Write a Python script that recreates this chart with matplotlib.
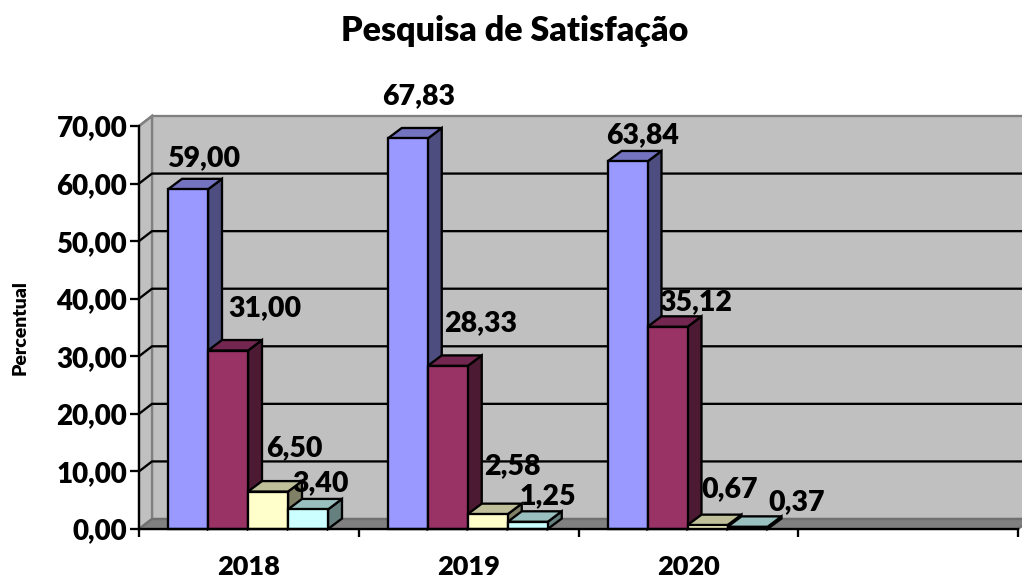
import matplotlib
matplotlib.use("Agg")
import matplotlib.pyplot as plt
from matplotlib.patches import Polygon

years = ['2018', '2019', '2020', '']
series_a = [59.00, 67.83, 63.84]
series_b = [31.00, 28.33, 35.12]
series_c = [6.50, 2.58, 0.67]
series_d = [3.40, 1.25, 0.37]
label_a = ['59,00', '67,83', '63,84']
label_b = ['31,00', '28,33', '35,12']
label_c = ['6,50', '2,58', '0,67']
label_d = ['3,40', '1,25', '0,37']
y_ticks = [0, 10, 20, 30, 40, 50, 60, 70]
y_tick_labels = ['0,00', '10,00', '20,00', '30,00', '40,00', '50,00', '60,00', '70,00']

front = ['#9999FF', '#993366', '#FFFFCC', '#CCFFFF']
top = ['#7373BF', '#732650', '#BFBF99', '#99BFBF']
side = ['#4D4D80', '#4D1A33', '#808066', '#668080']
# label offsets (px) from bar front-top centre
off_a = [(16, 31), (11, 42), (15, 26)]
off_b = [(37, 42), (33, 43), (28, 25)]
off_c = [(26, 43), (25, 48), (22, 36)]
off_d = [(13, 26), (20, 26), (49, 25)]

W, H = 1022, 579
plt.rcParams['font.family'] = ['Lato', 'DejaVu Sans']
fig = plt.figure(figsize=(W / 100, H / 100), dpi=100)
L, R, T, B = 139, 1018, 126, 529
ax = fig.add_axes([L / W, 1 - B / H, (R - L) / W, (B - T) / H])
ax.set_xlim(0, 4)
ax.set_ylim(0, 70)
ux = (R - L) / 4
uy = (B - T) / 70
dx, dy = 13 / ux, 10 / uy
bdx, bdy = 14 / ux, 10.5 / uy
px2pt = 72 / 100
lw2 = 2.3 * px2pt
WEIGHT = 800

# walls
ax.add_patch(Polygon([(dx, dy), (4 + dx, dy), (4 + dx, 70 + dy), (dx, 70 + dy)], closed=True,
                     fc='#C0C0C0', ec='#808080', lw=lw2, clip_on=False, zorder=1))
ax.add_patch(Polygon([(0, 0), (dx, dy), (dx, 70 + dy), (0, 70)], closed=True,
                     fc='#C0C0C0', ec='#808080', lw=lw2, clip_on=False, zorder=1))
ax.add_patch(Polygon([(0, 0), (dx, dy), (4 + dx, dy), (4, 0)], closed=True,
                     fc='#808080', ec='#707070', lw=lw2, clip_on=False, zorder=1))
# gridlines
for v in y_ticks[1:-1]:
    ax.plot([0, dx, 4 + dx], [v, v + dy, v + dy], color='black', lw=lw2, clip_on=False, zorder=2,
            solid_joinstyle='miter')
ax.plot([0, dx], [70, 70 + dy], color='#808080', lw=lw2, clip_on=False, zorder=2)

# bars
bar_w = 40 / ux
start = 29 / ux
z = 3
all_vals = [series_a, series_b, series_c, series_d]
all_labs = [label_a, label_b, label_c, label_d]
all_offs = [off_a, off_b, off_c, off_d]
for c in range(3):
    for s in range(4):
        v = all_vals[s][c]
        x0 = c + start + s * bar_w
        x1 = x0 + bar_w
        ax.add_patch(Polygon([(x1, 0), (x1 + bdx, bdy), (x1 + bdx, v + bdy), (x1, v)], closed=True,
                             fc=side[s], ec='black', lw=lw2, zorder=z, clip_on=False))
        ax.add_patch(Polygon([(x0, v), (x0 + bdx, v + bdy), (x1 + bdx, v + bdy), (x1, v)], closed=True,
                             fc=top[s], ec='black', lw=lw2, zorder=z, clip_on=False))
        ax.bar(x0, v, width=bar_w, align='edge', color=front[s], edgecolor='black',
               linewidth=lw2, zorder=z, clip_on=False)
        z += 1
for c in range(3):
    for s in range(4):
        v = all_vals[s][c]
        xc = c + start + (s + 0.5) * bar_w
        ox, oy = all_offs[s][c]
        ax.annotate(all_labs[s][c], (xc, v), xytext=(ox * px2pt, oy * px2pt), textcoords='offset points',
                    ha='center', va='center', fontsize=20.5, fontweight=WEIGHT, color='black',
                    zorder=100, annotation_clip=False)

# axes
for sp in ['top', 'right']:
    ax.spines[sp].set_visible(False)
for sp in ['left', 'bottom']:
    ax.spines[sp].set_linewidth(lw2)
    ax.spines[sp].set_zorder(50)
ax.patch.set_visible(False)
ax.set_yticks(y_ticks)
ax.set_yticklabels(y_tick_labels, fontsize=20, fontweight=WEIGHT)
ax.tick_params(axis='y', length=9 * px2pt, width=lw2, pad=2)
ax.set_xticks(range(5))
ax.set_xticklabels([])
ax.tick_params(axis='x', which='major', length=8 * px2pt, width=lw2)
ax.set_xticks([i + 0.5 for i in range(4)], minor=True)
ax.set_xticklabels(years, minor=True, fontsize=19.5, fontweight=WEIGHT)
ax.tick_params(axis='x', which='minor', length=0, pad=19)

fig.text(515 / W, 1 - 31 / H, 'Pesquisa de Satisfação', ha='center', va='center', fontsize=24.5, fontweight=WEIGHT)
fig.text(20 / W, 1 - 328 / H, 'Percentual', ha='center', va='center', rotation=90, fontsize=14, fontweight=WEIGHT)
fig.savefig('out.png', dpi=100)
